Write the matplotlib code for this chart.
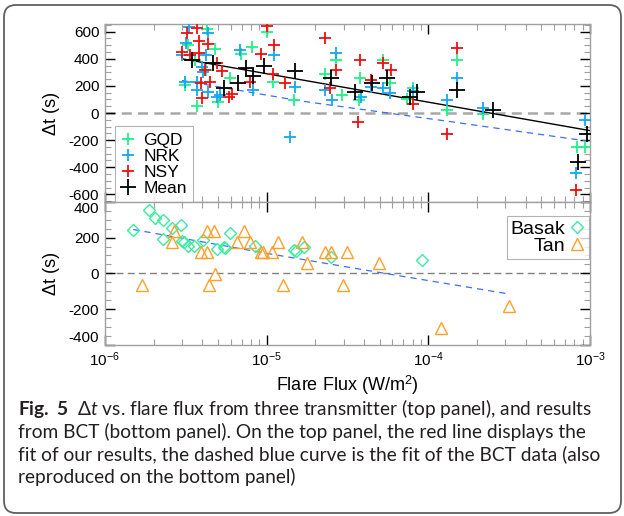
import numpy as np
import matplotlib.pyplot as plt
from matplotlib.patches import FancyBboxPatch
from matplotlib.transforms import IdentityTransform
from matplotlib.ticker import LogLocator, MultipleLocator, NullFormatter

plt.rcParams['font.family'] = ['Liberation Sans', 'DejaVu Sans']
plt.rcParams['mathtext.fontset'] = 'custom'
plt.rcParams['mathtext.rm'] = 'Liberation Sans'
plt.rcParams['mathtext.bf'] = 'Lato:bold'
plt.rcParams['mathtext.it'] = 'Lato:italic'
plt.rcParams['axes.unicode_minus'] = False

# top panel: three transmitters and their mean
gqd_flux = [4.29e-6, 3.25e-6, 4.79e-6, 3.12e-6, 3.69e-6, 5.02e-6, 5.93e-6, 8.08e-6, 1.0e-5, 1.10e-5,
            1.48e-5, 6.94e-6, 3.61e-6, 4.24e-6, 2.29e-5, 2.68e-5, 3.78e-5, 3.75e-5, 2.91e-5, 5.26e-5,
            5.79e-5, 7.41e-5, 8.07e-5, 1.50e-4, 1.30e-4, 2.19e-4, 8.26e-4, 9.30e-4]
gqd_dt = [618, 505, 470, 205, 50, 81, 255, 489, 596, 230,
          99, 432, 390, 316, 287, 390, 255, 99, 131, 390,
          222, 107, 188, 390, 20, -4, -252, -252]

nrk_flux = [3.32e-6, 4.35e-6, 3.18e-6, 3.02e-6, 4.21e-6, 4.05e-6, 3.12e-6, 3.69e-6, 3.69e-6, 4.35e-6,
            4.91e-6, 5.15e-6, 4.00e-6, 6.90e-6, 1.11e-5, 8.26e-6, 1.50e-5, 1.39e-5, 2.29e-5, 2.55e-5,
            2.68e-5, 3.86e-5, 4.40e-5, 5.26e-5, 5.79e-5, 8.07e-5, 1.30e-4, 1.50e-4, 2.19e-4, 9.30e-4,
            8.18e-4]
nrk_dt = [633, 588, 520, 427, 427, 299, 230, 230, 168, 156,
          119, 136, 340, 465, 427, 168, 193, -180, 168, 94,
          444, 119, 193, 188, 148, 163, 94, 259, 40, -54,
          -444]

nsy_flux = [3.74e-6, 3.20e-6, 3.81e-6, 4.35e-6, 3.02e-6, 3.36e-6, 3.83e-6, 4.91e-6, 5.27e-6, 4.14e-6,
            3.94e-6, 4.46e-6, 4.00e-6, 5.85e-6, 6.15e-6, 9.30e-6, 1.0e-5, 1.11e-5, 1.10e-5, 1.30e-5,
            7.88e-6, 2.29e-5, 2.46e-5, 2.68e-5, 3.78e-5, 3.70e-5, 4.40e-5, 5.26e-5, 5.85e-5, 8.07e-5,
            1.30e-4, 1.50e-4, 8.18e-4]
nsy_dt = [625, 593, 533, 507, 452, 427, 440, 366, 309, 316,
          218, 230, 114, 120, 140, 435, 642, 501, 287, 218,
          230, 551, 181, 321, 390, -67, 242, 366, 316, 64,
          -153, 477, -567]

mean_flux = [3.44e-6, 4.68e-6, 5.44e-6, 6.67e-6, 7.45e-6, 8.30e-6, 9.60e-6, 1.50e-5, 2.50e-5, 3.52e-5,
             4.46e-5, 5.57e-5, 7.69e-5, 8.53e-5, 1.50e-4, 2.50e-4, 8.45e-4, 9.53e-4]
mean_dt = [390, 366, 188, 218, 330, 270, 350, 311, 262, 156,
           222, 262, 119, 156, 173, 20, -363, -153]

# fits
fit_flux = [3.0e-6, 1.0e-3]
fit_dt = [400, -130]
bct_fit_top_flux = [3.0e-6, 1.6e-5, 1.2e-4, 1.0e-3]
bct_fit_top_dt = [240, 90, -54, -210]
bct_fit_flux = [1.5e-6, 1.0e-5, 5.0e-5, 3.2e-4]
bct_fit_dt = [245, 112, 5, -116]

# bottom panel: BCT results
basak_flux = [1.50e-6, 1.87e-6, 2.04e-6, 2.29e-6, 2.29e-6, 2.62e-6, 2.95e-6, 3.02e-6, 3.09e-6, 3.27e-6,
              3.56e-6, 4.05e-6, 4.91e-6, 5.47e-6, 5.55e-6, 5.93e-6, 8.47e-6, 1.48e-5, 1.52e-5, 1.70e-5,
              2.52e-5, 9.16e-5]
basak_dt = [242, 354, 311, 298, 191, 251, 270, 182, 176, 152,
            152, 186, 136, 145, 142, 223, 152, 130, 125, 149,
            91, 74]

tan_flux = [1.69e-6, 2.61e-6, 2.67e-6, 3.96e-6, 4.30e-6, 4.30e-6, 4.74e-6, 4.40e-6, 4.79e-6, 6.58e-6,
            7.27e-6, 7.88e-6, 9.20e-6, 9.50e-6, 1.08e-5, 1.17e-5, 1.27e-5, 1.66e-5, 1.78e-5, 2.30e-5,
            2.50e-5, 3.15e-5, 2.98e-5, 4.97e-5, 1.20e-4, 3.16e-4]
tan_dt = [-65, 176, 238, 117, 117, 238, 238, -65, -4, 176,
          238, 176, 117, 117, 117, 176, -65, 176, 56, 119,
          119, 119, -64, 58, -306, -184]

c_gqd = '#22F08A'
c_nrk = '#14A8F0'
c_nsy = '#F01010'
c_basak = '#3BEBA0'
c_tan = '#FFA028'
c_bct = '#3B6FF0'

fig = plt.figure(figsize=(6.24, 5.16), dpi=100)
ax1 = fig.add_axes([0.168, 0.609, 0.7775, 0.344])
ax2 = fig.add_axes([0.168, 0.3314, 0.7775, 0.2776])

for ax in (ax1, ax2):
    ax.set_xscale('log')
    ax.set_xlim(1e-6, 1e-3)
    for s in ax.spines.values():
        s.set_color('#A0A0A0')
        s.set_linewidth(1.0)
    ax.xaxis.set_major_locator(LogLocator(base=10, numticks=10))
    ax.xaxis.set_minor_locator(LogLocator(base=10, subs=np.arange(2, 10), numticks=20))
    ax.xaxis.set_minor_formatter(NullFormatter())
    ax.yaxis.set_minor_locator(MultipleLocator(50))
    ax.tick_params(which='both', direction='in', top=True, right=True, labelsize=11, pad=4)
    ax.tick_params(which='major', length=7, width=1.0, color='black')
    ax.tick_params(which='minor', length=4, width=0.8, color='#A0A0A0')
    ax.set_ylabel('Δt (s)', fontsize=13, labelpad=6)

# top panel
ax1.set_ylim(-655, 655)
ax1.yaxis.set_major_locator(MultipleLocator(200))
ax1.tick_params(axis='x', labelbottom=False)
ax1.axhline(0, color='#A8A8A8', lw=1.8, ls=(0, (4, 2.5)), zorder=1)
ax1.plot(bct_fit_top_flux, bct_fit_top_dt, color=c_bct, lw=0.9, ls=(0, (5, 4)), zorder=2)
ax1.plot(fit_flux, fit_dt, color='black', lw=1.0, zorder=2)
ax1.plot(gqd_flux, gqd_dt, '+', color=c_gqd, ms=8, mew=1.3, label='GQD', zorder=3)
ax1.plot(nrk_flux, nrk_dt, '+', color=c_nrk, ms=8, mew=1.3, label='NRK', zorder=3)
ax1.plot(nsy_flux, nsy_dt, '+', color=c_nsy, ms=8, mew=1.3, label='NSY', zorder=3)
ax1.plot(mean_flux, mean_dt, '+', color='black', ms=11, mew=1.3, label='Mean', zorder=4)
leg1 = ax1.legend(loc='lower left', bbox_to_anchor=(0.02, 0.0), fontsize=12.5, frameon=True,
                  fancybox=False, edgecolor='#A0A0A0', handlelength=0.9, handletextpad=0.4,
                  labelspacing=0.05, borderpad=0.35, borderaxespad=0.0)
leg1.get_frame().set_linewidth(0.8)

# bottom panel
ax2.set_ylim(-400, 400)
ax2.yaxis.set_major_locator(MultipleLocator(200))
ax2.axhline(0, color='#808080', lw=1.0, ls=(0, (5, 3)), zorder=1)
ax2.plot(bct_fit_flux, bct_fit_dt, color=c_bct, lw=0.9, ls=(0, (5, 4)), zorder=2)
ax2.plot(basak_flux, basak_dt, 'D', mfc='none', mec=c_basak, ms=6, mew=1.0, label='Basak', zorder=3)
ax2.plot(tan_flux, tan_dt, '^', mfc='none', mec=c_tan, ms=9, mew=1.0, label='Tan', zorder=3)
ax2.set_xlabel('Flare Flux (W/m$^2$)', fontsize=13, labelpad=3)
leg2 = ax2.legend(loc='upper right', bbox_to_anchor=(0.997, 0.90), fontsize=14, frameon=True,
                  fancybox=False, edgecolor='#A0A0A0', markerfirst=False, handlelength=0.8,
                  handletextpad=0.2, labelspacing=0.0, borderpad=0.2, borderaxespad=0.0)
leg2.get_frame().set_linewidth(0.8)

# keep the edge labels of the lower panel inside its height, as in the original
fig.canvas.draw()
for lab in ax2.get_yticklabels():
    if lab.get_text() == '400':
        lab.set_va('top')
    elif lab.get_text() == '-400':
        lab.set_va('bottom')

# caption
cap_lines = [
    r'$\mathbf{Fig.\ 5}$  Δ$\mathit{t}$ vs. flare flux from three transmitter (top panel), and results',
    'from BCT (bottom panel). On the top panel, the red line displays the',
    'fit of our results, the dashed blue curve is the fit of the BCT data (also',
    'reproduced on the bottom panel)',
]
for i, line in enumerate(cap_lines):
    fig.text(18 / 624, 1 - (409 + 22.5 * i) / 516, line, fontsize=13.8, family='Lato',
             color='#231f20', va='center', ha='left')

frame = FancyBboxPatch((4, 3), 617, 508, boxstyle='round,pad=0,rounding_size=12',
                       transform=IdentityTransform(), fc='none', ec='#606060', lw=1.3)
fig.add_artist(frame)

fig.savefig('out.png', dpi=100)
